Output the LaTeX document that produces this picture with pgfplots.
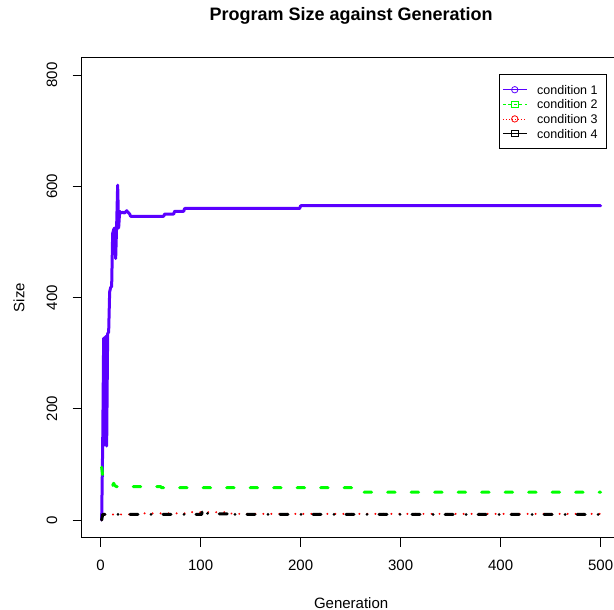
\documentclass[border=0pt]{standalone}
\usepackage{fontspec}
\setmainfont{Liberation Sans}
\usepackage{pgfplots}
\pgfplotsset{compat=1.18}
\usetikzlibrary{calc}
\definecolor{cA}{HTML}{5A00FF}
\definecolor{cB}{HTML}{00FF00}
\definecolor{cC}{HTML}{FF0000}
\definecolor{cD}{HTML}{000000}
\begin{document}
\begin{tikzpicture}
\begin{axis}[
  scale only axis, width=538.9pt, height=480.6pt,
  xmin=-18.96, xmax=519.96, ymin=-32, ymax=832,
  xtick={0,100,200,300,400,500}, ytick={0,200,400,600,800},
  tick align=outside, tick pos=left,
  major tick length=9pt,
  every tick/.style={black, line width=0.8pt},
  axis line style={black, line width=0.8pt},
  /pgf/number format/assume math mode=true,
  ticklabel style={font=\fontsize{15}{18}\selectfont},
  xticklabel style={anchor=north, inner sep=0pt},
  yticklabel style={rotate=90, anchor=south, inner sep=0pt},
  xticklabel shift=12.8pt, yticklabel shift=15.3pt,
  xlabel={Generation}, ylabel={Size},
  label style={font=\fontsize{15}{18}\selectfont},
  xlabel style={at={(axis description cs:0.5,-0.1352)}, anchor=center},
  ylabel style={at={(axis description cs:-0.1163,0.5)}, anchor=center},
  title={Program Size against Generation},
  title style={at={(axis description cs:0.5,1.0641)}, anchor=base, font=\bfseries\fontsize{18}{21}\selectfont},
  legend style={at={(axis description cs:0.9748,0.965)}, anchor=north east, draw=black, line width=0.8pt,
    inner xsep=3pt, inner ysep=10.8pt, font=\fontsize{12.5}{14}\selectfont,
    nodes={inner sep=0pt, text height=9pt, text depth=0pt}, row sep=5.6pt, column sep=10pt},
  legend cell align=left,
  legend image code/.code={\draw[mark repeat=2,mark phase=2,#1] plot coordinates {(0pt,0pt) (12pt,0pt) (24pt,0pt)};},
]
\addlegendimage{color=cA, solid, line width=0.8pt, mark=o, mark size=3.2pt, mark options={solid, line width=0.8pt}}
\addlegendentry{condition 1\hspace*{6pt}}
\addlegendimage{color=cB, dash pattern=on 3pt off 2.5pt, line width=0.8pt, mark=square, mark size=3.2pt, mark options={solid, line width=0.8pt}}
\addlegendentry{condition 2\hspace*{6pt}}
\addlegendimage{color=cC, dash pattern=on 1pt off 2pt, line width=0.8pt, mark=o, mark size=3.2pt, mark options={solid, line width=0.8pt}}
\addlegendentry{condition 3\hspace*{6pt}}
\addlegendimage{color=cD, solid, line width=0.8pt, mark=square, mark size=3.2pt, mark options={solid, line width=0.8pt}}
\addlegendentry{condition 4\hspace*{6pt}}

\addplot[cA, line width=3pt, line cap=round, line join=round, forget plot] coordinates {
(1,0) (2,131) (3,327) (4,135) (5,330) (6,133) (7,335) (8,338) (9,410) (10,418) (11,420)
(12,515) (13,522) (14,525) (15,470) (16,530) (17,602) (18,525) (19,555) (20,552)
(22,553) (24,552) (26,556) (28,552) (29,550) (30,546) (63,546) (64,550) (73,550)
(74,555) (83,555) (84,560) (199,560) (200,565) (500,565)};

\addplot[cB, line width=3pt, line cap=round, line join=round, dash pattern=on 7.5pt off 16pt, forget plot] coordinates {
(1,95) (2,80) (3,75) (5,70) (8,68) (10,66) (11,63) (12,62) (13,66) (14,62) (16,60)
(60,60) (61,58) (255,58) (256,50) (500,50)};

\addplot[cC, line width=2.2pt, line cap=round, line join=round, dash pattern=on 0.01pt off 8pt, forget plot] coordinates {
(1,0) (2,10) (40,10) (41,12) (90,12) (91,14) (130,14) (131,11) (500,11)};

\addplot[cD, line width=3pt, line cap=round, line join=round, dash pattern=on 8pt off 13pt on 0.01pt off 12pt, forget plot] coordinates {
(1,0) (2,10) (101,10) (102,21) (106,21) (107,11) (128,11) (129,18) (131,12) (133,10) (500,10)};
\end{axis}
\pgfresetboundingbox
\path[use as bounding box] ($(current axis.south west)+(-81.7pt,-72.2pt)$) rectangle ($(current axis.south west)+(532.3pt,537.8pt)$);
\end{tikzpicture}
\end{document}
